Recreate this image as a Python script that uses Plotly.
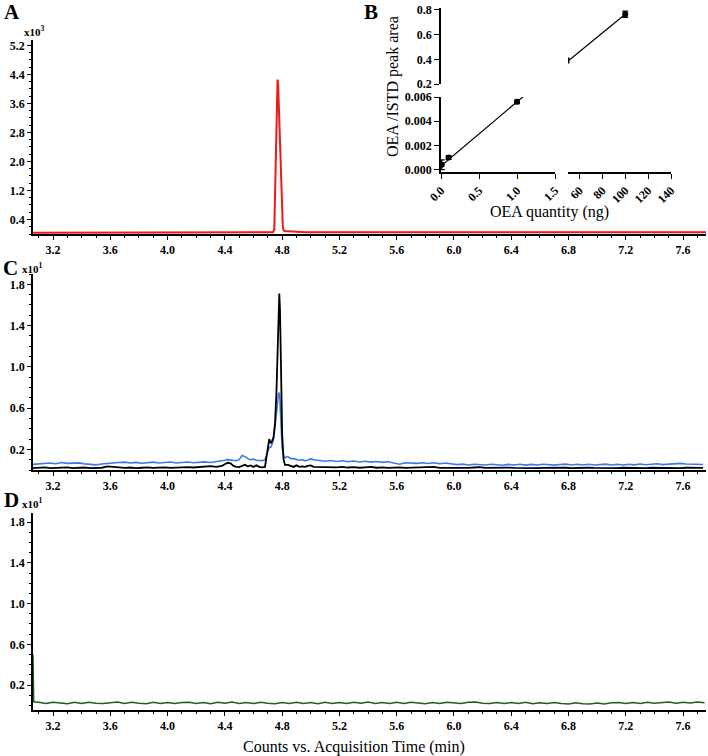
import plotly.graph_objects as go

# ---------------- DATA ----------------
# Panel A (x10^3 counts), red trace
tA = [3.06, 3.24, 3.26, 3.80, 4.40, 4.70, 4.735, 4.745, 4.752, 4.758, 4.764, 4.768,
      4.772, 4.778, 4.785, 4.792, 4.798, 4.805, 4.815, 4.85, 4.95, 4.96, 5.60, 6.60, 7.76]
yA = [0.035, 0.035, 0.045, 0.045, 0.045, 0.045, 0.05, 0.12, 1.5, 3.0, 4.0, 4.26,
      4.1, 3.3, 2.3, 1.2, 0.45, 0.15, 0.08, 0.07, 0.06, 0.045, 0.045, 0.045, 0.045]

# Panel C (x10^1 counts), blue and black traces
tC = [3.06, 3.10, 3.14, 3.18, 3.22, 3.26, 3.30, 3.34, 3.38, 3.42,
      3.46, 3.50, 3.54, 3.58, 3.62, 3.66, 3.70, 3.74, 3.78, 3.82,
      3.86, 3.90, 3.94, 3.98, 4.02, 4.06, 4.10, 4.14, 4.18, 4.22,
      4.26, 4.30,
      4.34, 4.38, 4.40, 4.42, 4.44, 4.46, 4.48, 4.50, 4.52, 4.54,
      4.56, 4.58, 4.60, 4.62, 4.64, 4.66, 4.68, 4.70, 4.71, 4.72,
      4.73, 4.74, 4.75, 4.76, 4.765, 4.77, 4.775, 4.78, 4.785, 4.79,
      4.795, 4.80, 4.81, 4.82, 4.84, 4.86, 4.88, 4.90, 4.92, 4.94,
      4.96, 4.98, 5.00, 5.02, 5.06, 5.10,
      5.14, 5.18, 5.22, 5.26, 5.30, 5.34, 5.38, 5.42, 5.46, 5.50,
      5.54, 5.58, 5.62, 5.66, 5.70, 5.74, 5.78, 5.82, 5.86, 5.90,
      5.94, 5.98, 6.02, 6.06, 6.10, 6.14, 6.18, 6.22, 6.26, 6.30,
      6.34, 6.38, 6.42, 6.46, 6.50, 6.54, 6.58, 6.62, 6.66, 6.70,
      6.74, 6.78, 6.82, 6.86, 6.90, 6.94, 6.98, 7.02, 7.06, 7.10,
      7.14, 7.18, 7.22, 7.26, 7.30, 7.34, 7.38, 7.42, 7.46, 7.50,
      7.54, 7.58, 7.62, 7.66, 7.70, 7.74]
blueC = [0.055, 0.060, 0.062, 0.068, 0.061, 0.072, 0.064, 0.066, 0.069, 0.059,
         0.055, 0.050, 0.058, 0.066, 0.068, 0.072, 0.076, 0.068, 0.074, 0.066,
         0.073, 0.076, 0.068, 0.074, 0.077, 0.068, 0.075, 0.078, 0.070, 0.076,
         0.079, 0.073,
         0.080, 0.085, 0.095, 0.100, 0.095, 0.090, 0.090, 0.100, 0.140, 0.130,
         0.110, 0.100, 0.105, 0.095, 0.090, 0.090, 0.100, 0.180, 0.220, 0.220,
         0.250, 0.300, 0.420, 0.550, 0.630, 0.700, 0.740, 0.750, 0.680, 0.500,
         0.350, 0.220, 0.130, 0.120, 0.130, 0.110, 0.110, 0.100, 0.095, 0.100,
         0.090, 0.095, 0.110, 0.100, 0.090, 0.085,
         0.092, 0.083, 0.090, 0.080, 0.087, 0.078, 0.085, 0.076, 0.082, 0.074,
         0.080, 0.070, 0.056, 0.070, 0.068, 0.064, 0.070, 0.063, 0.070, 0.060,
         0.068, 0.058, 0.052, 0.057, 0.048, 0.056, 0.050, 0.048, 0.056, 0.049,
         0.046, 0.054, 0.048, 0.055, 0.047, 0.054, 0.048, 0.056, 0.049, 0.047,
         0.054, 0.057, 0.048, 0.055, 0.049, 0.056, 0.048, 0.054, 0.057, 0.049,
         0.055, 0.048, 0.056, 0.050, 0.058, 0.051, 0.057, 0.060, 0.052, 0.058,
         0.060, 0.064, 0.058, 0.059, 0.053, 0.054]
blackC = [0.018, 0.020, 0.025, 0.018, 0.022, 0.020, 0.026, 0.019, 0.021, 0.024,
          0.018, 0.020, 0.022, 0.035, 0.030, 0.022, 0.020, 0.024, 0.019, 0.022,
          0.025, 0.020, 0.023, 0.026, 0.021, 0.024, 0.022, 0.028, 0.024, 0.030,
          0.034, 0.038,
          0.030, 0.040, 0.055, 0.070, 0.065, 0.040, 0.030, 0.028, 0.040, 0.050,
          0.035, 0.045, 0.030, 0.045, 0.030, 0.025, 0.030, 0.200, 0.300, 0.260,
          0.280, 0.320, 0.450, 0.750, 1.050, 1.350, 1.600, 1.710, 1.550, 1.150,
          0.700, 0.350, 0.100, 0.050, 0.050, 0.040, 0.030, 0.045, 0.030, 0.035,
          0.030, 0.040, 0.045, 0.030, 0.028, 0.030,
          0.028, 0.025, 0.030, 0.024, 0.028, 0.022, 0.026, 0.030, 0.022, 0.025,
          0.020, 0.023, 0.026, 0.020, 0.022, 0.025, 0.020, 0.024, 0.030, 0.021,
          0.020, 0.023, 0.019, 0.022, 0.020, 0.024, 0.027, 0.020, 0.022, 0.019,
          0.021, 0.023, 0.020, 0.018, 0.022, 0.020, 0.019, 0.021, 0.023, 0.019,
          0.020, 0.022, 0.018, 0.021, 0.019, 0.022, 0.020, 0.018, 0.021, 0.020,
          0.019, 0.022, 0.020, 0.018, 0.021, 0.019, 0.022, 0.020, 0.018, 0.021,
          0.020, 0.019, 0.022, 0.020, 0.018, 0.020]

# Panel D (x10^1 counts), green trace
tD = [3.06, 3.065,
      3.10, 3.15, 3.20, 3.25, 3.30, 3.35, 3.40, 3.45, 3.50, 3.55,
      3.60, 3.65, 3.70, 3.75, 3.80, 3.85, 3.90, 3.95, 4.00, 4.05,
      4.10, 4.15, 4.20, 4.25, 4.30, 4.35, 4.40, 4.45, 4.50, 4.55,
      4.60, 4.65, 4.70, 4.75, 4.80, 4.85, 4.90, 4.95, 5.00, 5.05,
      5.10, 5.15, 5.20, 5.25, 5.30, 5.35, 5.40, 5.45, 5.50, 5.55,
      5.60, 5.65, 5.70, 5.75, 5.80, 5.85, 5.90, 5.95, 6.00, 6.05,
      6.10, 6.15, 6.20, 6.25, 6.30, 6.35, 6.40, 6.45, 6.50, 6.55,
      6.60, 6.65, 6.70, 6.75, 6.80, 6.85, 6.90, 6.95, 7.00, 7.05,
      7.10, 7.15, 7.20, 7.25, 7.30, 7.35, 7.40, 7.45, 7.50, 7.55,
      7.60, 7.65, 7.70, 7.75]
greenD = [0.50, 0.035,
          0.030, 0.018, 0.032, 0.022, 0.017, 0.030, 0.020, 0.032, 0.021, 0.018,
          0.029, 0.033, 0.019, 0.030, 0.021, 0.017, 0.031, 0.020, 0.029, 0.018,
          0.028, 0.032, 0.019, 0.029, 0.017, 0.030, 0.021, 0.033, 0.019, 0.028,
          0.018, 0.031, 0.021, 0.017, 0.029, 0.020, 0.032, 0.019, 0.028, 0.017,
          0.030, 0.020, 0.029, 0.018, 0.031, 0.021, 0.033, 0.019, 0.028, 0.018,
          0.030, 0.020, 0.032, 0.021, 0.017, 0.029, 0.019, 0.031, 0.021, 0.018,
          0.030, 0.034, 0.021, 0.019, 0.029, 0.018, 0.028, 0.020, 0.030, 0.017,
          0.027, 0.019, 0.029, 0.018, 0.015, 0.025, 0.016, 0.014, 0.023, 0.015,
          0.025, 0.028, 0.018, 0.029, 0.020, 0.031, 0.021, 0.030, 0.033, 0.022,
          0.032, 0.023, 0.034, 0.026]

# Panel B calibration (OEA quantity ng vs OEA/ISTD peak area)
qLow = [0.01, 0.1, 1.0]
rLow = [0.0004, 0.0010, 0.0056]
eLow = [0.0004, 0.00015, 0.00015]
qHigh = [100]
rHigh = [0.765]
eHigh = [0.025]
fitLowX = [0.0, 1.15]
fitLowY = [0.0003, 0.0064]
fitHighX = [50.6, 100]
fitHighY = [0.39, 0.765]
fitHighCap = [0.024, 0]

W, H = 708, 756
def X(px): return px / W
def Y(py): return 1 - py / H

SERIF = "Liberation Serif"
tickfont = dict(family=SERIF, size=12, color="black", weight="bold")

fig = go.Figure()

fig.add_trace(go.Scatter(x=tA, y=yA, mode="lines", line=dict(color="#f01818", width=2),
                         xaxis="x", yaxis="y"))
fig.add_trace(go.Scatter(x=tC, y=blueC, mode="lines", line=dict(color="#3f78e8", width=1.6),
                         xaxis="x2", yaxis="y2"))
fig.add_trace(go.Scatter(x=tC, y=blackC, mode="lines", line=dict(color="black", width=1.8),
                         xaxis="x2", yaxis="y2"))
fig.add_trace(go.Scatter(x=tD, y=greenD, mode="lines", line=dict(color="#1f5f1f", width=1.5),
                         xaxis="x3", yaxis="y3"))

# Panel B
fig.add_trace(go.Scatter(x=fitLowX, y=fitLowY, mode="lines", line=dict(color="black", width=1.2),
                         xaxis="x4", yaxis="y4"))
fig.add_trace(go.Scatter(x=qLow, y=rLow, mode="markers",
                         marker=dict(color="black", size=6),
                         error_y=dict(type="data", array=eLow, color="black", thickness=1.2, width=3),
                         xaxis="x4", yaxis="y4"))
fig.add_trace(go.Scatter(x=fitHighX, y=fitHighY, mode="lines", line=dict(color="black", width=1.2),
                         error_y=dict(type="data", array=fitHighCap, color="black", thickness=1.5, width=0),
                         xaxis="x5", yaxis="y5"))
fig.add_trace(go.Scatter(x=qHigh, y=rHigh, mode="markers",
                         marker=dict(color="black", size=6),
                         error_y=dict(type="data", array=eHigh, color="black", thickness=1.2, width=3),
                         xaxis="x5", yaxis="y5"))

axbase = dict(showline=True, linecolor="black", linewidth=1.5, ticks="outside", ticklen=4,
              tickcolor="black", tickwidth=1.2, showgrid=False, zeroline=False,
              tickfont=tickfont, automargin=False, fixedrange=True)

xtime = dict(axbase, domain=[X(33), X(706)], range=[3.06, 7.76], tick0=3.2, dtick=0.4,
             tickformat=".1f", minor=dict(dtick=0.1, ticks="outside", ticklen=2, tickcolor="black"))

fig.update_layout(
    template="none",
    width=W, height=H, margin=dict(l=0, r=0, t=0, b=0),
    paper_bgcolor="white", plot_bgcolor="rgba(0,0,0,0)", showlegend=False,
    xaxis=dict(xtime, anchor="y"),
    yaxis=dict(axbase, domain=[Y(234), Y(40)], range=[0, 5.35], tick0=0.4, dtick=0.8,
               tickformat=".1f", anchor="x",
               minor=dict(dtick=0.2, ticks="outside", ticklen=2, tickcolor="black")),
    xaxis2=dict(xtime, anchor="y2"),
    yaxis2=dict(axbase, domain=[Y(470), Y(274)], range=[0, 1.9], tick0=0.2, dtick=0.4,
                tickformat=".1f", anchor="x2",
                minor=dict(dtick=0.1, ticks="outside", ticklen=2, tickcolor="black")),
    xaxis3=dict(xtime, anchor="y3"),
    yaxis3=dict(axbase, domain=[Y(710), Y(513)], range=[-0.045, 1.89], tick0=0.2, dtick=0.4,
                tickformat=".1f", anchor="x3",
                minor=dict(dtick=0.1, ticks="outside", ticklen=2, tickcolor="black")),
    xaxis4=dict(axbase, domain=[X(441), X(555)], range=[0, 1.5], tick0=0, dtick=0.5,
                tickformat=".1f", tickangle=-45, anchor="y4", ticklen=5),
    yaxis4=dict(axbase, domain=[Y(172), Y(97)], range=[-0.0002, 0.006], tick0=0, dtick=0.002,
                tickformat=".3f", anchor="x4", ticklen=5),
    yaxis5=dict(axbase, domain=[Y(84), Y(8)], range=[0.2, 0.816], tick0=0.2, dtick=0.2,
                tickformat=".1f", anchor="x4", ticklen=5),
    xaxis5=dict(axbase, domain=[X(568), X(671)], range=[50, 140], tick0=60, dtick=20,
                tickangle=-45, anchor="y4", ticklen=5),
)

def ann(text, px, py, size, bold=False, angle=0):
    fig.add_annotation(text=text, x=X(px), y=Y(py), xref="paper", yref="paper",
                       showarrow=False, textangle=angle, xanchor="center", yanchor="middle",
                       font=dict(family=SERIF, size=size, color="black",
                                 weight="bold" if bold else "normal"))

ann("A", 12, 12, 21, True)
ann("B", 371, 12, 21, True)
ann("C", 10, 268, 21, True)
ann("D", 11, 500, 21, True)
ann("x10<sup>3</sup>", 34, 31, 11, True)
ann("x10<sup>1</sup>", 32, 268, 11, True)
ann("x10<sup>1</sup>", 32, 503, 11, True)
ann("OEA /ISTD peak area", 393, 87, 16, False, -90)
ann("OEA quantity (ng)", 549, 212, 16)
ann("Counts vs. Acquisition Time (min)", 354, 747, 16)

fig.write_html("out.html")
